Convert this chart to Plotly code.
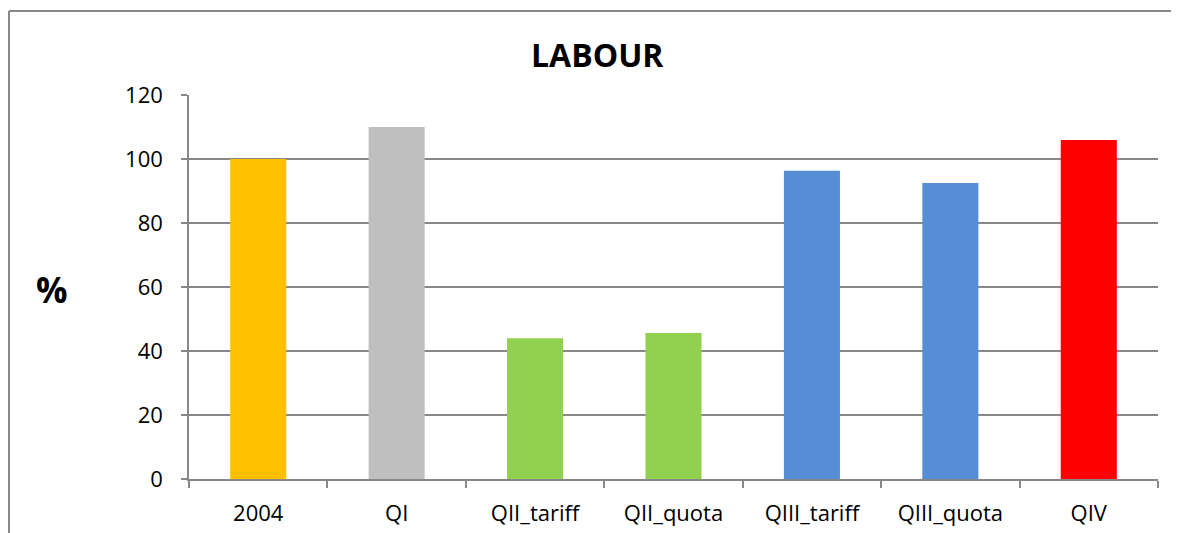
import plotly.graph_objects as go

categories = ['2004', 'QI', 'QII_tariff', 'QII_quota', 'QIII_tariff', 'QIII_quota', 'QIV']
values = [100, 110, 44, 45.6, 96.3, 92.5, 105.9]
colors = ['#FFC000', '#BFBFBF', '#92D050', '#92D050', '#558ED5', '#558ED5', '#FF0000']

# page body has an 8px margin, so the figure is drawn 8px in from the corner
W, H = 1171, 525
left, right, top, bottom = 181, 21, 87, 54
plot_w = W - left - right
plot_h = H - top - bottom


def px(x):
    return (x - 8 - left) / plot_w


def py(y):
    return (H - bottom - (y - 8)) / plot_h


fig = go.Figure()
fig.add_bar(x=categories, y=values, marker=dict(color=colors, line=dict(width=0)), width=0.405)

fig.update_layout(
    width=W, height=H,
    margin=dict(l=left, r=right, t=top, b=bottom, autoexpand=False),
    plot_bgcolor='white', paper_bgcolor='white',
    showlegend=False,
    font=dict(family='Open Sans', size=22, color='black'),
)
fig.update_yaxes(
    range=[0, 120], dtick=20, showgrid=True, gridcolor='#888888', gridwidth=1.5,
    showline=True, linecolor='#888888', linewidth=1.5,
    ticks='outside', ticklen=6, tickcolor='#888888', tickwidth=1.5,
    ticklabelstandoff=14, zeroline=False,
)
fig.update_xaxes(
    showline=True, linecolor='#888888', linewidth=1.5,
    ticks='outside', ticklen=7, tickcolor='#888888', tickwidth=1.5,
    tickson='boundaries', ticklabelstandoff=14, showgrid=False,
)

# title and axis label
fig.add_annotation(text='<b>LABOUR</b>', x=px(597), y=py(55), xref='paper', yref='paper',
                   xanchor='center', yanchor='middle', showarrow=False,
                   font=dict(family='Open Sans', size=32, color='black'))
fig.add_annotation(text='<b>%</b>', x=px(52), y=py(289), xref='paper', yref='paper',
                   xanchor='center', yanchor='middle', showarrow=False,
                   font=dict(family='Open Sans', size=35, color='black'))

# outer chart border (only the left and top edges are in view)
border = dict(color='#888888', width=2)
fig.add_shape(type='line', xref='paper', yref='paper',
              x0=px(9), x1=px(9), y0=py(540), y1=py(11), line=border, layer='below')
fig.add_shape(type='line', xref='paper', yref='paper',
              x0=px(9), x1=px(1185), y0=py(11), y1=py(11), line=border, layer='below')

# no scrollbars on the page
fig.write_html('out.html', config={'displayModeBar': False},
               post_script="document.body.style.overflow='hidden';")
